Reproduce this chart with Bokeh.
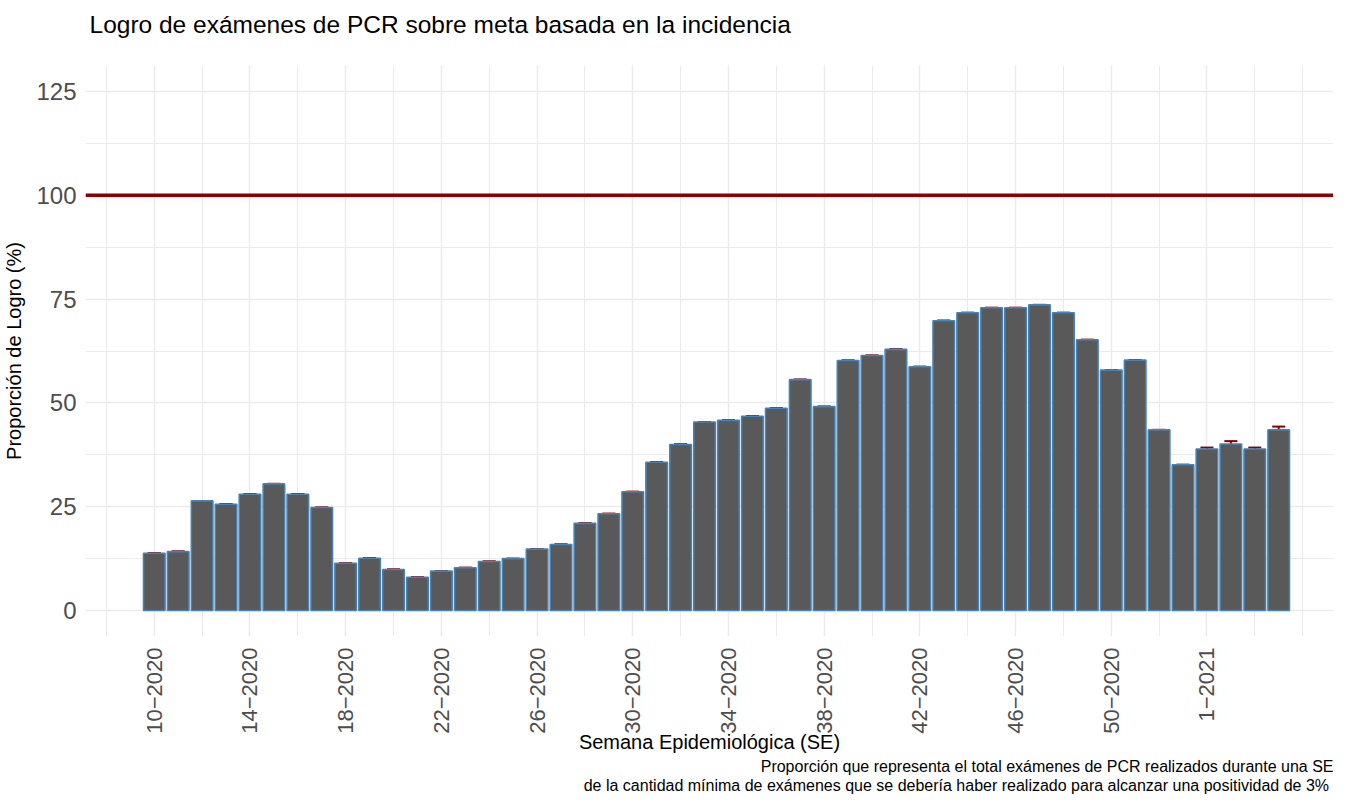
import numpy as np
from bokeh.plotting import figure
from bokeh.models import ColumnDataSource, FixedTicker, Span, Whisker, TeeHead, Range1d, Title
from bokeh.embed import file_html
from bokeh.resources import INLINE

# ---- data -----------------------------------------------------------------
semanas_2020 = list(range(10, 54))
semanas_2021 = [1, 2, 3, 4]
semanas = [f"{s}\u22122020" for s in semanas_2020] + [f"{s}\u22122021" for s in semanas_2021]

logro = [13.8, 14.2, 26.4, 25.6, 28.0, 30.5, 28.0, 24.8, 11.4, 12.6,
         9.9, 8.0, 9.5, 10.3, 11.8, 12.5, 14.8, 15.9, 21.0, 23.3,
         28.6, 35.7, 40.0, 45.4, 45.8, 46.8, 48.7, 55.6, 49.1, 60.2,
         61.4, 62.9, 58.7, 69.8, 71.7, 72.9, 72.9, 73.6, 71.7, 65.2,
         57.9, 60.3, 43.5, 35.1, 38.9, 40.1, 38.9, 43.5]
ic_inf = [13.8, 14.2, 26.4, 25.6, 28.0, 30.5, 28.0, 24.8, 11.4, 12.6,
          9.9, 8.0, 9.5, 10.3, 11.8, 12.5, 14.8, 15.9, 21.0, 23.3,
          28.6, 35.7, 40.0, 45.4, 45.8, 46.8, 48.7, 55.6, 49.1, 60.2,
          61.4, 62.9, 58.7, 69.8, 71.7, 72.9, 72.9, 73.6, 71.7, 65.2,
          57.9, 60.3, 43.5, 35.1, 38.15, 39.25, 38.15, 42.3]
ic_sup = [13.8, 14.2, 26.4, 25.6, 28.0, 30.5, 28.0, 24.8, 11.4, 12.6,
          9.9, 8.0, 9.5, 10.3, 11.8, 12.5, 14.8, 15.9, 21.0, 23.3,
          28.6, 35.7, 40.0, 45.4, 45.8, 46.8, 48.7, 55.6, 49.1, 60.2,
          61.4, 62.9, 58.7, 69.8, 71.7, 72.9, 72.9, 73.6, 71.7, 65.2,
          57.9, 60.3, 43.5, 35.1, 39.25, 40.8, 39.25, 44.3]
meta = 100
y_ticks = [0, 25, 50, 75, 100, 125]

titulo = "Logro de exámenes de PCR sobre meta basada en la incidencia"
eje_x = "Semana Epidemiológica (SE)"
eje_y = "Proporción de Logro (%)"
nota_1 = "Proporción que representa el total exámenes de PCR realizados durante una SE"
nota_2 = "de la cantidad mínima de exámenes que se debería haber  realizado para alcanzar una positividad de 3%"

# ---- figure ---------------------------------------------------------------
x = np.arange(len(semanas)) + semanas_2020[0]
src = ColumnDataSource(dict(x=x, logro=logro, lo=ic_inf, hi=ic_sup, sem=semanas))

FONT = "Liberation Sans"
p = figure(width=1333, height=795, output_backend="svg", toolbar_location=None,
           x_range=Range1d(7.125, 59.29), y_range=Range1d(-6.25, 131.25),
           min_border_left=81, min_border_right=0, min_border_top=10, min_border_bottom=159)
p.outline_line_color = None
p.background_fill_color = "white"

# spacer between the frame and the title
p.add_layout(Title(text=" ", text_font=FONT, text_font_size="10px", standoff=2), "above")

p.title.text = titulo
p.title.align = "left"
p.title.vertical_align = "top"
p.title.offset = 4
p.title.standoff = 21
p.title.text_font = FONT
p.title.text_font_size = "24.5px"
p.title.text_font_style = "normal"
p.title.text_color = "black"

p.vbar(x="x", top="logro", bottom=0, width=0.9, source=src,
       fill_color="#595959", line_color="#4682B4", line_width=1.6)

w = Whisker(base="x", lower="lo", upper="hi", source=src, line_color="#8B0000", line_width=2,
            upper_head=TeeHead(size=13, line_color="#8B0000", line_width=2),
            lower_head=TeeHead(size=13, line_color="#8B0000", line_width=2))
p.add_layout(w)

p.add_layout(Span(location=meta, dimension="width", line_color="#8B0000", line_width=3.5))

xt = list(x[::4])
p.xaxis.ticker = FixedTicker(ticks=xt, minor_ticks=list(np.arange(x[0] - 2, x[-1] + 3, 2)))
p.xaxis.major_label_overrides = {int(t): s for t, s in zip(x[::4], semanas[::4])}
p.xaxis.major_label_orientation = np.pi / 2
p.yaxis.ticker = FixedTicker(ticks=y_ticks, minor_ticks=[12.5, 37.5, 62.5, 87.5, 112.5])

for ax in (p.xaxis, p.yaxis):
    ax.axis_line_color = None
    ax.major_tick_line_color = None
    ax.minor_tick_line_color = None
    ax.major_tick_out = 0
    ax.major_tick_in = 0
    ax.minor_tick_out = 0
    ax.minor_tick_in = 0
    ax.major_label_text_font = FONT
    ax.major_label_text_color = "#4D4D4D"
    ax.axis_label_text_font = FONT
    ax.axis_label_text_font_style = "normal"
    ax.axis_label_text_font_size = "20px"
    ax.axis_label_text_color = "black"
p.xaxis.major_label_text_font_size = "22px"
p.yaxis.major_label_text_font_size = "24px"
p.xaxis.major_label_standoff = 11
p.yaxis.major_label_standoff = 9
p.xaxis.axis_label = eje_x
p.yaxis.axis_label = eje_y
p.xaxis.axis_label_standoff = -6
p.xaxis.axis_label_text_line_height = 0.9
p.yaxis.axis_label_standoff = 8

for g in (p.xgrid, p.ygrid):
    g.grid_line_color = "#EBEBEB"
    g.grid_line_width = 1.4
    g.minor_grid_line_color = "#EBEBEB"
    g.minor_grid_line_width = 1.1
p.xgrid.ticker = p.xaxis.ticker
p.ygrid.ticker = p.yaxis.ticker

for txt in (nota_1, nota_2):
    p.add_layout(Title(text=txt, align="right", offset=0, standoff=0,
                       text_font=FONT, text_font_size="16px", text_line_height=0.65,
                       text_font_style="normal", text_color="black"), "below")

open("out.html", "w").write(file_html(p, INLINE))
